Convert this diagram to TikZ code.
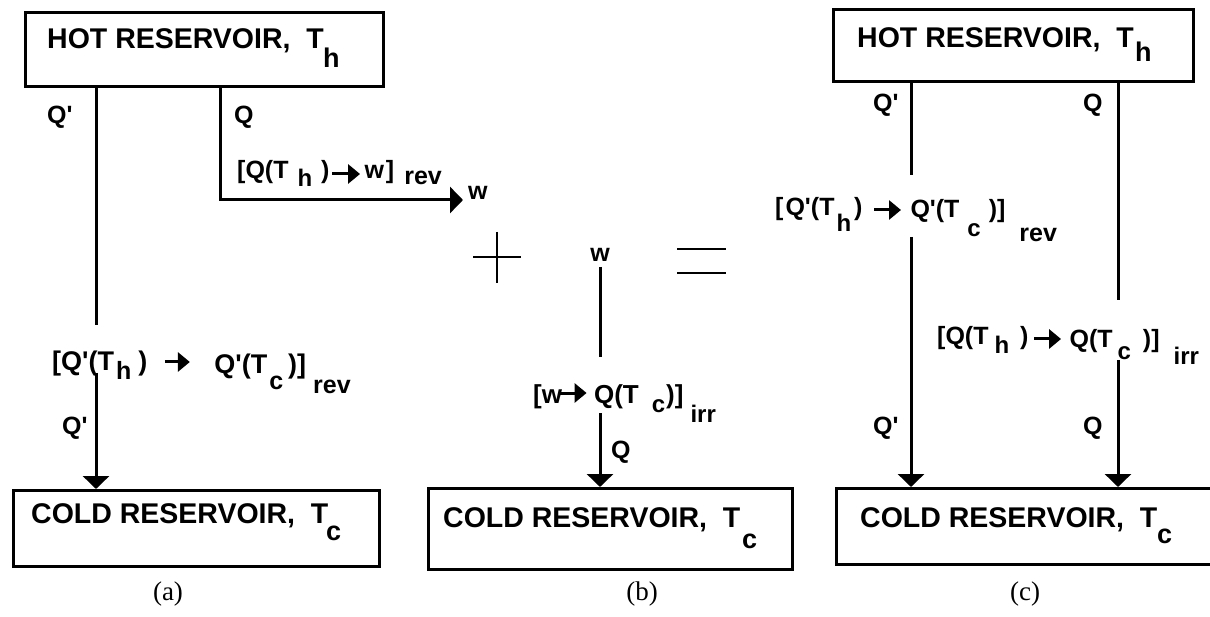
\documentclass[tikz,border=0pt]{standalone}
\usepackage{fontspec}
\newfontfamily\lsans{Liberation Sans}
\newfontfamily\serfont{Liberation Serif}
\usetikzlibrary{arrows.meta}

\newcommand{\putat}[3]{\rlap{\hspace*{#1pt}\raisebox{-#2pt}{#3}}}
\newcommand{\hgap}[1]{\hspace*{#1pt}}
\newcommand{\lowsub}[3]{\raisebox{-#1pt}{\fontsize{#2}{#2}\selectfont #3}}
\newcommand{\boxsub}[1]{{\fontsize{27}{32}\selectfont #1}}
\newcommand{\iarrow}[2]{\tikz[baseline=0pt,x=1pt,y=1pt]\draw[line width=3pt,-{Triangle[length=12pt,width=19pt]}] (0,#2)--(#1,#2);}

\tikzset{
  resbox/.style={draw, line width=2.8pt, inner sep=0pt, anchor=north west},
  lbl/.style={inner sep=0pt, anchor=base west, font=\lsans\bfseries\fontsize{#1}{#1}\selectfont},
  lbl/.default=25,
  boxtxt/.style={inner sep=0pt, anchor=base west, font=\lsans\bfseries\fontsize{28.5}{34}\selectfont},
  figcap/.style={inner sep=0pt, anchor=base, font=\serfont\fontsize{27}{32}\selectfont},
  conn/.style={line width=3pt},
  flow/.style={line width=3pt, -{Triangle[length=13pt,width=26pt]}},
  sign/.style={line width=2.6pt}
}

\begin{document}
\begin{tikzpicture}[x=1pt,y=-1pt]
\useasboundingbox (0,0) rectangle (1210,617);
\clip (0,0) rectangle (1210,617);

% ---------------- (a) ----------------
\node[resbox, minimum width=358pt, minimum height=74pt] (hotA) at (24,11) {};
\node[boxtxt] (hotAt) at (47,49) {\putat{0}{0}{HOT RESERVOIR,\ \ T}\putat{276}{19}{\boxsub{h}}\hspace*{295pt}};
\node[resbox, minimum width=366pt, minimum height=76pt] (coldA) at (12,489) {};
\node[boxtxt] (coldAt) at (31,523) {\putat{0}{0}{COLD RESERVOIR,\ \ T}\putat{295}{17}{\boxsub{c}}\hspace*{312pt}};

\node[lbl] (qa1) at (47,124) {Q'};
\node[lbl] (qa2) at (234,124) {Q};
\node[lbl] (qa3) at (62,435) {Q'};
\node[lbl] (wA) at (468,200) {w};

\node[lbl] (labA1) at (237,179) {[Q(T\hgap{9}\lowsub{8}{24}{h}\hgap{9})\hgap{1}\iarrow{28}{5}\hgap{3}w\hgap{2}]\hgap{10}\lowsub{6}{25}{rev}};
\node[lbl=27] (labA2) at (52,371) {[Q'(T\hgap{2}\lowsub{9}{25}{h}\hgap{7})\hgap{16}\iarrow{25}{9}\hgap{23}\raisebox{-2pt}{Q'(T}\hgap{2}\lowsub{19}{25}{c}\hgap{5}\raisebox{-2pt}{)]}\hgap{7}\lowsub{23}{25}{rev}};

\coordinate (a1u) at (96,325);
\coordinate (a1l) at (96,373);
\coordinate (a2c) at (220,200);
\coordinate (a2e) at (463,200);
\draw[conn] (hotA.south -| a1u) -- (a1u);
\draw[flow] (a1l) -- (coldA.north -| a1l);
\draw[flow] (hotA.south -| a2c) -- (a2c) -- (a2e);

\node[figcap] (capa) at (168,600) {(a)};

% ---------------- + and = ----------------
\draw[sign] (473,257) -- (521,257) (497,232) -- (497,283);
\draw[sign] (677,249) -- (726,249) (677,273) -- (726,273);

% ---------------- (b) ----------------
\node[resbox, minimum width=364pt, minimum height=81pt] (coldB) at (427,487) {};
\node[boxtxt] (coldBt) at (443,527) {\putat{0}{0}{COLD RESERVOIR,\ \ T}\putat{299}{21}{\boxsub{c}}\hspace*{318pt}};
\node[lbl, anchor=base] (wB) at (600,262) {w};
\node[lbl] (qb) at (611,458) {Q};
\node[lbl=26] (labB) at (533,403) {[w\hgap{-4}\iarrow{27}{10}\hgap{6}Q(T\hgap{13}\lowsub{9}{24}{c}\hgap{1})]\hgap{7}\lowsub{19}{24}{irr}};
\coordinate (b1t) at (600,267);
\coordinate (b1u) at (600,357);
\coordinate (b1l) at (600,413);
\draw[conn] (b1t) -- (b1u);
\draw[flow] (b1l) -- (coldB.north -| b1l);
\node[figcap] (capb) at (642,600) {(b)};

% ---------------- (c) ----------------
\node[resbox, minimum width=360pt, minimum height=72pt] (hotC) at (832,8) {};
\node[boxtxt] (hotCt) at (857,48) {\putat{0}{0}{HOT RESERVOIR,\ \ T}\putat{278}{14}{\boxsub{h}}\hspace*{296pt}};
\node[resbox, minimum width=380pt, minimum height=76pt] (coldC) at (835,487) {};
\node[boxtxt] (coldCt) at (860,527) {\putat{0}{0}{COLD RESERVOIR,\ \ T}\putat{297}{16}{\boxsub{c}}\hspace*{316pt}};

\node[lbl] (qc1) at (873,112) {Q'};
\node[lbl] (qc2) at (1083,112) {Q};
\node[lbl] (qc3) at (873,435) {Q'};
\node[lbl] (qc4) at (1083,435) {Q};

\node[lbl] (labC1) at (775,216) {[\hgap{2}Q'(T\hgap{2}\lowsub{16}{24}{h}\hgap{3})\hgap{10}\iarrow{27}{6}\hgap{8}\raisebox{-2pt}{Q'(T}\hgap{8}\lowsub{21}{24}{c}\hgap{8}\raisebox{-2pt}{)]}\hgap{14}\lowsub{26}{25}{rev}};
\node[lbl] (labC2) at (937,345) {[Q(T\hgap{6}\lowsub{9}{24}{h}\hgap{11})\hgap{4}\iarrow{27}{6}\hgap{7}\raisebox{-3pt}{Q(T}\hgap{5}\lowsub{15}{24}{c}\hgap{12}\raisebox{-3pt}{)]}\hgap{14}\lowsub{20}{24}{irr}};

\coordinate (c1u) at (911,175);
\coordinate (c1l) at (911,237);
\coordinate (c2u) at (1118,300);
\coordinate (c2l) at (1118,360);
\draw[conn] (hotC.south -| c1u) -- (c1u);
\draw[flow] (c1l) -- (coldC.north -| c1l);
\draw[conn] (hotC.south -| c2u) -- (c2u);
\draw[flow] (c2l) -- (coldC.north -| c2l);

\node[figcap] (capc) at (1025,600) {(c)};
\end{tikzpicture}
\end{document}
